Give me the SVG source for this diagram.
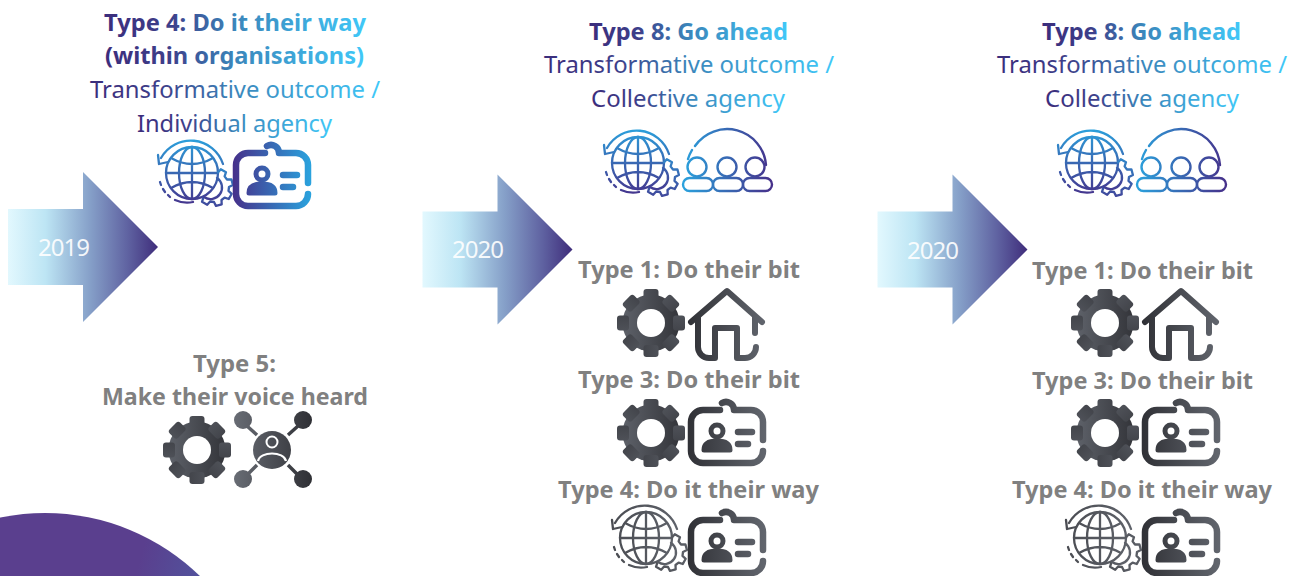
<svg xmlns="http://www.w3.org/2000/svg" xmlns:xlink="http://www.w3.org/1999/xlink" width="1296" height="576" viewBox="0 0 1296 576">
<style>
text{font-family:"Noto Sans","Lato","Liberation Sans",sans-serif;font-size:24px;font-variant-ligatures:none}
.b{font-weight:700}
.g{fill:#808080;font-weight:700}
.c{fill:url(#tg)}
.y{fill:#fff;opacity:.9;font-size:24px}
.ln{stroke-linecap:round;stroke-linejoin:round}
.nf{fill:none}
</style>
<defs>
<linearGradient id="tg" x1="0" x2="1" y1="0" y2="0"><stop offset="0" stop-color="#3b2d7c"/><stop offset=".25" stop-color="#3d3f8a"/><stop offset=".5" stop-color="#3b86bb"/><stop offset="1" stop-color="#40c8f8"/></linearGradient>
<linearGradient id="ar" x1="0" x2="1" y1="0" y2="0"><stop offset="0" stop-color="#e2f8fe"/><stop offset=".25" stop-color="#bde5f4"/><stop offset=".55" stop-color="#859fc8"/><stop offset=".8" stop-color="#5f62a1"/><stop offset="1" stop-color="#3f2d7b"/></linearGradient>
<linearGradient id="blob" gradientUnits="userSpaceOnUse" x1="0" y1="520" x2="200" y2="576"><stop offset=".7" stop-color="#5a3f8e"/><stop offset="1" stop-color="#52529c"/></linearGradient>
<linearGradient id="cc" gradientUnits="userSpaceOnUse" x1="0" x2="78" y1="0" y2="0"><stop offset="0" stop-color="#46308a"/><stop offset="1" stop-color="#2aa3de"/></linearGradient>
<linearGradient id="cd" gradientUnits="userSpaceOnUse" x1="0" x2="78" y1="0" y2="0"><stop offset="0" stop-color="#303136"/><stop offset="1" stop-color="#62666e"/></linearGradient>
<linearGradient id="gl" gradientUnits="userSpaceOnUse" x1="0" x2="0" y1="-36" y2="34"><stop offset="0" stop-color="#2aa3de"/><stop offset="1" stop-color="#46308a"/></linearGradient>
<linearGradient id="gd" gradientUnits="userSpaceOnUse" x1="-34" x2="42" y1="0" y2="0"><stop offset="0" stop-color="#4a4c52"/><stop offset="1" stop-color="#62666e"/></linearGradient>
<linearGradient id="gr" gradientUnits="userSpaceOnUse" x1="-34" x2="34" y1="0" y2="0"><stop offset="0" stop-color="#62666e"/><stop offset="1" stop-color="#2f3035"/></linearGradient>
<linearGradient id="pp" gradientUnits="userSpaceOnUse" x1="0" x2="90" y1="0" y2="0"><stop offset="0" stop-color="#2aa3de"/><stop offset="1" stop-color="#46308a"/></linearGradient>
<linearGradient id="vo" gradientUnits="userSpaceOnUse" x1="-38" x2="40" y1="0" y2="0"><stop offset="0" stop-color="#686c74"/><stop offset="1" stop-color="#2f3035"/></linearGradient>
<g id="gear">
<circle r="28.500"/>
<g><rect x="-7.500" y="-34" width="15" height="12" rx="3"/><rect x="-7.500" y="-34" width="15" height="12" rx="3" transform="rotate(45)"/><rect x="-7.500" y="-34" width="15" height="12" rx="3" transform="rotate(90)"/><rect x="-7.500" y="-34" width="15" height="12" rx="3" transform="rotate(135)"/><rect x="-7.500" y="-34" width="15" height="12" rx="3" transform="rotate(180)"/><rect x="-7.500" y="-34" width="15" height="12" rx="3" transform="rotate(225)"/><rect x="-7.500" y="-34" width="15" height="12" rx="3" transform="rotate(270)"/><rect x="-7.500" y="-34" width="15" height="12" rx="3" transform="rotate(315)"/></g>
<circle r="14" fill="#fff"/>
</g>
<g id="card" class="ln" stroke-width="6.500">
<path class="nf" d="M75 40V22A12 12 0 0 0 63 10H46A8 8 0 0 0 34 3M32 10H15A12 12 0 0 0 3 22V51A12 12 0 0 0 15 63H63A12 12 0 0 0 75 51"/>
<circle class="nf" cx="29" cy="31" r="6" stroke-width="5"/>
<path d="M16 50C16 43 22 41 29 41S42 43 42 50Z" stroke-width="5"/>
<path class="nf" d="M50 32H64M50 44H60" stroke-width="6.500"/>
</g>
<g id="house" class="ln nf" stroke-width="6">
<path d="M3 35L39 4L74 35M10 30V60A11 11 0 0 0 21 71H27V41H49V71H57A11 11 0 0 0 68 60M67 30V46"/>
</g>
<g id="globe" class="ln nf" stroke-width="2.300">
<circle r="26"/><ellipse rx="13" ry="26"/><path d="M0-26V26M-26 0H26M-21-15Q0-3 21-15M-21 15Q0 3 21 15"/>
<path d="M-31-15A34 34 0 0 1 31-9M-34-18L-33-9L-24-11"/>
<path d="M-32 9L-31 12M-29 16L-27 19M-24 22L-22 24M-17 27Q-8 31 1 29"/>
<path transform="translate(22 14)" d="M3.900-14.500L6.800-17.700L12-14.800L10.600-10.600L13-7.500L17.400-7.700L18.900-2L15 0L14.500 3.900L17.700 6.800L14.800 12L10.600 10.600L7.500 13L7.700 17.400L2 18.900L0 15L-3.900 14.500L-6.800 17.700L-12 14.800L-10.600 10.600"/>
<path d="M26 5A10 10 0 1 1 13 24" transform="translate(-1 0)"/>
</g>
<g id="people" class="ln nf" stroke-width="2.400">
<rect x="1" y="49" width="30" height="13" rx="6.500"/><rect x="31" y="49" width="30" height="13" rx="6.500"/><rect x="61" y="49" width="29" height="13" rx="6.500"/>
<circle cx="15" cy="38" r="9.500"/><circle cx="45" cy="38" r="9.500"/><circle cx="73" cy="38" r="9.500"/>
<path d="M6 30A39 39 0 0 1 10 21M13 17A39 39 0 0 1 84 36"/>
</g>
<g id="voice">
<circle r="19"/>
<circle cx="-29" cy="-30" r="9"/><circle cx="31" cy="-30" r="9"/><circle cx="-29" cy="29" r="9"/><circle cx="31" cy="29" r="9"/>
<path d="M-15-15L-25-24M16-15L26-24M-15 15L-25 25M16 15L26 25" fill="none" stroke="url(#vo)" stroke-width="3.500"/>
<circle cy="-8" r="5.500" stroke="#fff" stroke-width="2"/>
<path d="M-14 11C-12 1 12 1 14 11" fill="none" stroke="#fff" stroke-width="2.200"/>
</g>
<path id="arrow" d="M0 37H75V0L150 75L75 150V113H0Z" fill="url(#ar)"/>
</defs>

<circle id="blob-shape" cx="45" cy="735" r="222" fill="url(#blob)"/>

<g id="arrow-2019"><use href="#arrow" x="8" y="172"/><text class="y" x="38" y="256" textLength="52">2019</text></g>
<g id="arrow-2020a"><use href="#arrow" x="422.500" y="174.500"/><text class="y" x="452" y="258" textLength="52">2020</text></g>
<g id="arrow-2020b"><use href="#arrow" x="877.500" y="174.500"/><text class="y" x="907" y="259" textLength="52">2020</text></g>

<g id="type4-main">
<text class="b c" x="104" y="31" textLength="262" lengthAdjust="spacingAndGlyphs">Type 4: Do it their way</text>
<text class="b c" x="105" y="64" textLength="259" lengthAdjust="spacingAndGlyphs">(within organisations)</text>
<text class="c" x="90" y="98" textLength="290" lengthAdjust="spacingAndGlyphs">Transformative outcome /</text>
<text class="c" x="137" y="132" textLength="195" lengthAdjust="spacingAndGlyphs">Individual agency</text>
<use href="#globe" transform="translate(192 173)" stroke="url(#gl)"/>
<use href="#card" transform="translate(233 143)" stroke="url(#cc)" fill="url(#cc)"/>
</g>

<g id="type5">
<text class="g" x="193" y="372" textLength="83" lengthAdjust="spacingAndGlyphs">Type 5:</text>
<text class="g" x="102" y="405" textLength="266" lengthAdjust="spacingAndGlyphs">Make their voice heard</text>
<use href="#gear" transform="translate(197 450)" fill="url(#gr)"/>
<use href="#voice" transform="translate(272 450)" fill="url(#vo)"/>
</g>

<g id="type8-a">
<text class="b c" x="589" y="40" textLength="199" lengthAdjust="spacingAndGlyphs">Type 8: Go ahead</text>
<text class="c" x="544" y="73" textLength="290" lengthAdjust="spacingAndGlyphs">Transformative outcome /</text>
<text class="c" x="591" y="107" textLength="194" lengthAdjust="spacingAndGlyphs">Collective agency</text>
<use href="#globe" transform="translate(638 163)" stroke="url(#gl)"/>
<use href="#people" transform="translate(682 129)" stroke="url(#pp)"/>
</g>
<g id="type1-a">
<text class="g" x="578" y="278" textLength="222" lengthAdjust="spacingAndGlyphs">Type 1: Do their bit</text>
<use href="#gear" transform="translate(651 323)" fill="url(#gr)"/>
<use href="#house" transform="translate(688 287)" stroke="url(#cd)"/>
</g>
<g id="type3-a">
<text class="g" x="578" y="388" textLength="222" lengthAdjust="spacingAndGlyphs">Type 3: Do their bit</text>
<use href="#gear" transform="translate(651 433)" fill="url(#gr)"/>
<use href="#card" transform="translate(688 400)" stroke="url(#cd)" fill="url(#cd)"/>
</g>
<g id="type4-a">
<text class="g" x="558" y="498" textLength="261" lengthAdjust="spacingAndGlyphs">Type 4: Do it their way</text>
<use href="#globe" transform="translate(646 538)" stroke="url(#gd)"/>
<use href="#card" transform="translate(688 510)" stroke="url(#cd)" fill="url(#cd)"/>
</g>

<g id="type8-b">
<text class="b c" x="1042" y="40" textLength="199" lengthAdjust="spacingAndGlyphs">Type 8: Go ahead</text>
<text class="c" x="997" y="73" textLength="290" lengthAdjust="spacingAndGlyphs">Transformative outcome /</text>
<text class="c" x="1045" y="107" textLength="194" lengthAdjust="spacingAndGlyphs">Collective agency</text>
<use href="#globe" transform="translate(1092 163)" stroke="url(#gl)"/>
<use href="#people" transform="translate(1136 129)" stroke="url(#pp)"/>
</g>
<g id="type1-b">
<text class="g" x="1032" y="279" textLength="221" lengthAdjust="spacingAndGlyphs">Type 1: Do their bit</text>
<use href="#gear" transform="translate(1105 323)" fill="url(#gr)"/>
<use href="#house" transform="translate(1142 287)" stroke="url(#cd)"/>
</g>
<g id="type3-b">
<text class="g" x="1032" y="389" textLength="221" lengthAdjust="spacingAndGlyphs">Type 3: Do their bit</text>
<use href="#gear" transform="translate(1105 433)" fill="url(#gr)"/>
<use href="#card" transform="translate(1142 400)" stroke="url(#cd)" fill="url(#cd)"/>
</g>
<g id="type4-b">
<text class="g" x="1012" y="498" textLength="260" lengthAdjust="spacingAndGlyphs">Type 4: Do it their way</text>
<use href="#globe" transform="translate(1100 538)" stroke="url(#gd)"/>
<use href="#card" transform="translate(1142 510)" stroke="url(#cd)" fill="url(#cd)"/>
</g>
<g id="connectors"/>
</svg>
